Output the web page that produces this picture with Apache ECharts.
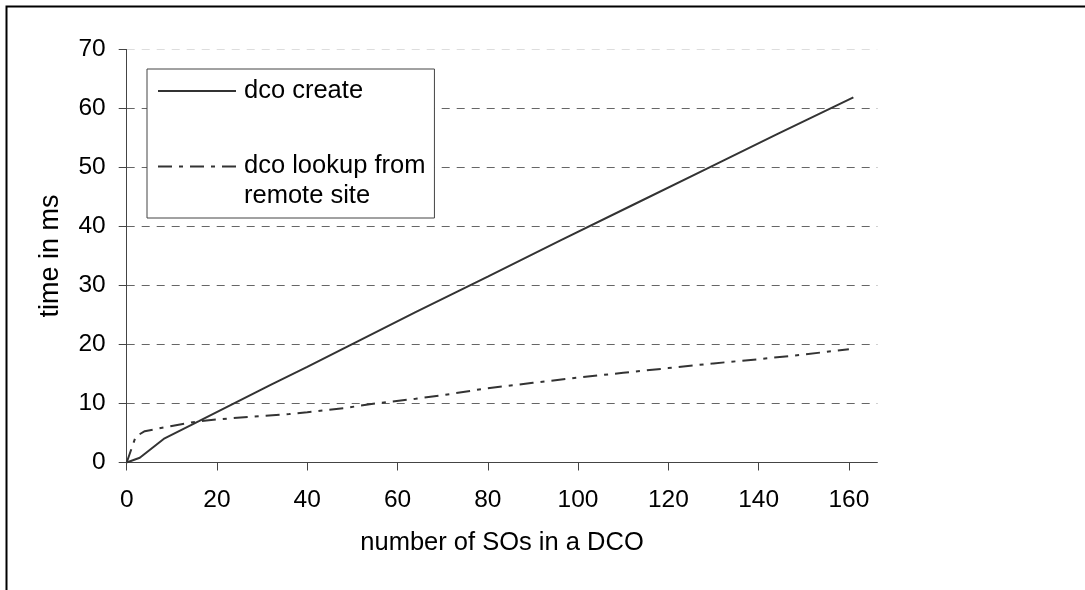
<!DOCTYPE html>
<html>
<head>
<meta charset="utf-8">
<script src="https://cdn.jsdelivr.net/npm/echarts@6/dist/echarts.min.js"></script>
<style>
html,body{margin:0;padding:0;background:#fff;}
#c{width:1085px;height:590px;}
</style>
</head>
<body>
<div id="c"></div>
<script>
// ---- data ----
const createX = [0, 2.9, 8.4, 16, 24, 32, 40, 48, 56, 64, 80, 96, 112, 128, 144, 161];
const createY = [0, 0.8, 4.1, 7.0, 10.1, 13.2, 16.2, 19.3, 22.4, 25.5, 31.5, 37.6, 43.6, 49.6, 55.6, 61.9];
const lookupX = [0, 2, 4, 10, 16, 20, 30, 36, 40, 48, 56, 64, 70, 80, 90, 100, 110, 120, 130, 140, 150, 160];
const lookupY = [0, 4.4, 5.3, 6.2, 7.0, 7.3, 7.9, 8.2, 8.5, 9.2, 10.1, 10.8, 11.4, 12.6, 13.5, 14.4, 15.2, 16.0, 16.8, 17.5, 18.3, 19.2];
const xTicks = [0, 20, 40, 60, 80, 100, 120, 140, 160];
const seriesNames = ['dco create', 'dco lookup from\nremote site'];
const xTitle = 'number of SOs in a DCO';
const yTitle = 'time in ms';

const pairs = (xs, ys) => xs.map((x, i) => [x, ys[i]]);
const FONT = 'Liberation Sans, Arial, sans-serif';
const legendFont = {fontFamily: FONT, fontSize: 25.5, color: '#000'};

const chart = echarts.init(document.getElementById('c'), null, {renderer: 'canvas'});
chart.setOption({
  animation: false,
  backgroundColor: '#fff',
  textStyle: {fontFamily: FONT, color: '#000'},
  graphic: [{
    type: 'rect', silent: true, z: 100,
    shape: {x: 6.5, y: 6.5, width: 1200, height: 700},
    style: {fill: 'none', stroke: '#000', lineWidth: 2}
  }],
  grid: {left: 126.7, right: 207.7, top: 49.5, bottom: 127.5, containLabel: false},
  legend: {
    orient: 'vertical',
    left: 147, top: 69,
    padding: [9, 9, 9, 10],
    itemGap: 49,
    itemWidth: 78, itemHeight: 14,
    borderColor: '#444', borderWidth: 1,
    backgroundColor: '#fff',
    selectedMode: false,
    itemStyle: {opacity: 0},
    formatter: function (name) {
      const parts = name.split('\n');
      if (parts.length === 1) return '{s|' + name + '}';
      return '{a|' + parts[0] + '}\n{b|' + parts[1] + '}';
    },
    textStyle: {
      fontFamily: FONT, fontSize: 25.5, color: '#000', padding: [0, 0, 0, 3],
      rich: {
        s: Object.assign({lineHeight: 30}, legendFont),
        a: Object.assign({lineHeight: 59}, legendFont),
        b: Object.assign({lineHeight: 1}, legendFont)
      }
    },
    data: seriesNames
  },
  xAxis: {
    type: 'value', min: 0, max: 166.3,
    name: xTitle, nameLocation: 'middle', nameGap: 67,
    nameTextStyle: {fontFamily: FONT, fontSize: 25.5, color: '#000'},
    axisLine: {show: true, onZero: false, lineStyle: {color: '#444', width: 1}},
    axisTick: {show: true, inside: false, length: 8, customValues: xTicks, lineStyle: {color: '#444'}},
    axisLabel: {customValues: xTicks, margin: 25, fontFamily: FONT, fontSize: 24.5, color: '#000'},
    splitLine: {show: false}
  },
  yAxis: {
    type: 'value', min: 0, max: 70, interval: 10,
    name: yTitle, nameLocation: 'middle', nameGap: 63, nameRotate: 90,
    nameTextStyle: {fontFamily: FONT, fontSize: 27, color: '#000'},
    axisLine: {show: true, lineStyle: {color: '#444', width: 1}},
    axisTick: {show: true, inside: false, length: 8, lineStyle: {color: '#444'}},
    axisLabel: {margin: 21, fontFamily: FONT, fontSize: 24.5, color: '#000'},
    splitLine: {show: true, lineStyle: {color: ['#666','#666','#666','#666','#666','#666','#666','#ddd'], width: 1, type: [8, 7]}}
  },
  series: [
    {
      name: seriesNames[0], type: 'line', data: pairs(createX, createY),
      symbol: 'none', showSymbol: false, smooth: false,
      lineStyle: {color: '#333', width: 2, type: 'solid'},
      itemStyle: {color: '#333'}
    },
    {
      name: seriesNames[1], type: 'line', data: pairs(lookupX, lookupY),
      symbol: 'none', showSymbol: false, smooth: false,
      lineStyle: {color: '#333', width: 2, type: [14, 7, 4, 7]},
      itemStyle: {color: '#333'}
    }
  ]
});
</script>
</body>
</html>
